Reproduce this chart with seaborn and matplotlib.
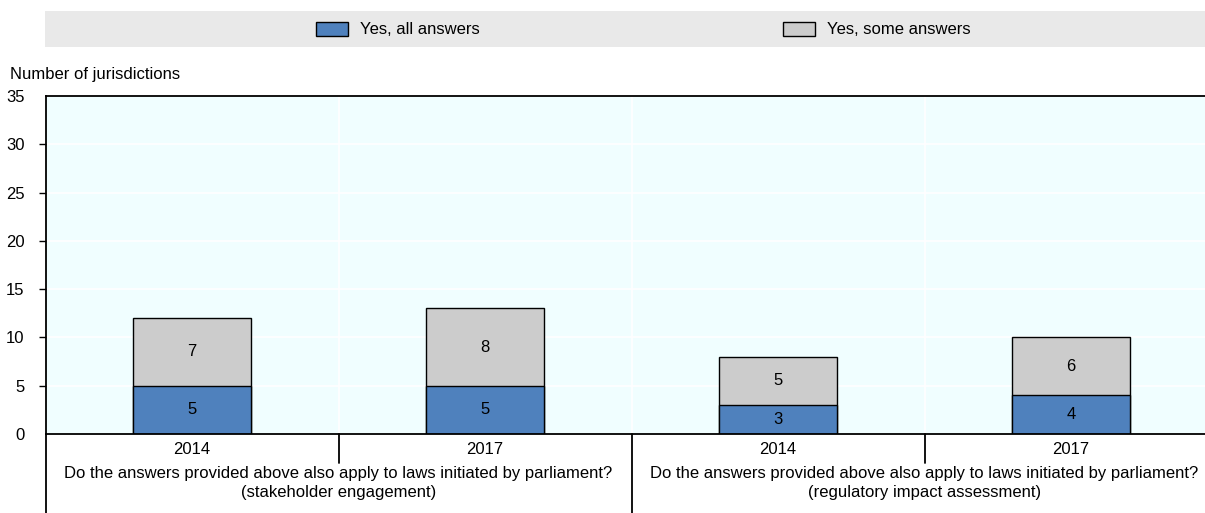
import numpy as np
import pandas as pd
import seaborn as sns
import matplotlib.pyplot as plt
from matplotlib.patches import Rectangle

# ========================================== DATA ==========================================

years = ['2014', '2017', '2014', '2017']
groups = ['Do the answers provided above also apply to laws initiated by parliament?\n(stakeholder engagement)',
          'Do the answers provided above also apply to laws initiated by parliament?\n(regulatory impact assessment)']
all_answers = [5, 5, 3, 4]
some_answers = [7, 8, 5, 6]
series_names = ['Yes, all answers', 'Yes, some answers']

BLUE = '#4F81BD'
GREY = '#CCCCCC'

# ========================================== PLOT ==========================================

sns.set_style('white')
plt.rcParams['font.family'] = ['Liberation Sans', 'DejaVu Sans']
plt.rcParams['text.color'] = 'black'
plt.rcParams['ytick.color'] = 'black'

keys = [f'{i}_{y}' for i, y in enumerate(years)]
df = pd.DataFrame({'key': keys, 'all': all_answers, 'some': some_answers})
df['total'] = df['all'] + df['some']

fig = plt.figure(figsize=(12.05, 5.13), dpi=100)
# axes runs a little past the right edge of the picture, as in the reference
ax = fig.add_axes([45.5 / 1205, 1 - 434 / 513, 1172 / 1205, 338 / 513])
ax.set_facecolor('#F0FEFF')

sns.barplot(data=df, x='key', y='total', order=keys, color=GREY, width=0.4,
            edgecolor='black', linewidth=1, saturation=1, ax=ax)
sns.barplot(data=df, x='key', y='all', order=keys, color=BLUE, width=0.4,
            edgecolor='black', linewidth=1, saturation=1, ax=ax)

for i, (a, s) in enumerate(zip(all_answers, some_answers)):
    ax.text(i, a / 2, str(a), ha='center', va='center', fontsize=12)
    ax.text(i, a + s / 2, str(s), ha='center', va='center', fontsize=12)

ax.set_ylim(0, 35)
ax.set_xlim(-0.5, 3.5)
ax.set_yticks(range(0, 36, 5))
ax.yaxis.grid(True, color='white', linewidth=1.2)
for xv in [0.5, 1.5, 2.5]:
    ax.axvline(xv, color='white', linewidth=1.2, zorder=0)
ax.set_axisbelow(True)
ax.set_xlabel('')
ax.set_ylabel('')
ax.set_xticks([])
ax.tick_params(axis='y', length=5, width=1, color='black', labelsize=12, pad=10, left=True)
yticks = ax.yaxis.get_major_ticks()
yticks[0].tick1line.set_visible(False)
yticks[-1].tick1line.set_visible(False)

for side in ['top', 'left', 'bottom']:
    ax.spines[side].set_visible(True)
    ax.spines[side].set_color('black')
    ax.spines[side].set_linewidth(1.3)
ax.spines['right'].set_visible(False)

# category labels below axis
trans = ax.get_xaxis_transform()
for i, y in enumerate(years):
    ax.text(i, -0.045, y, transform=trans, ha='center', va='center', fontsize=12, clip_on=False)
for g, label in enumerate(groups):
    ax.text(g * 2 + 0.5, -0.145, label, transform=trans, ha='center', va='center',
            fontsize=12, linespacing=1.3, clip_on=False)

# divider lines
ax.plot([0.5, 0.5], [0, -0.085], transform=trans, color='black', lw=1.3, clip_on=False)
ax.plot([2.5, 2.5], [0, -0.085], transform=trans, color='black', lw=1.3, clip_on=False)
ax.plot([1.5, 1.5], [0, -0.25], transform=trans, color='black', lw=1.3, clip_on=False)
ax.plot([-0.5, -0.5], [0, -0.25], transform=trans, color='black', lw=1.3, clip_on=False)

fig.text(10 / 1205, 1 - 75 / 513, 'Number of jurisdictions', ha='left', va='center', fontsize=12)

# legend band
fig.patches.append(Rectangle((45 / 1205, 1 - 47 / 513), 1 - 45 / 1205, 36 / 513,
                             transform=fig.transFigure, facecolor='#E9E9E9', edgecolor='none', zorder=0))
for name, color, x0 in zip(series_names, [BLUE, GREY], [316, 783]):
    fig.patches.append(Rectangle((x0 / 1205, 1 - 36 / 513), 32 / 1205, 14 / 513,
                                 transform=fig.transFigure, facecolor=color, edgecolor='black', lw=1))
    fig.text((x0 + 44) / 1205, 1 - 29 / 513, name, ha='left', va='center', fontsize=12)

plt.savefig('out.png', dpi=100)
